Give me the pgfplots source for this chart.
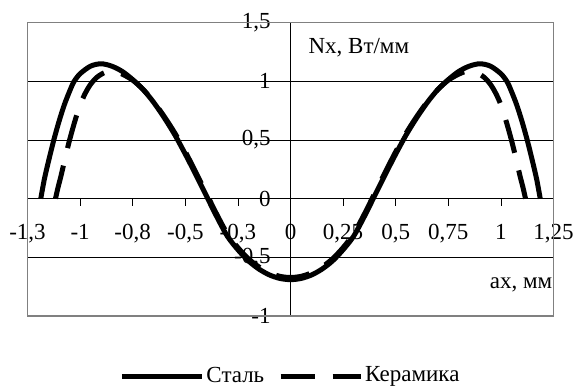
\documentclass[border=0pt]{standalone}
\usepackage{fontspec}
\setmainfont{Liberation Serif}
\usepackage{pgfplots}
\pgfplotsset{compat=1.18}

\begin{document}
\fontsize{23}{27}\selectfont
\begin{tikzpicture}[x=1pt,y=1pt]
\useasboundingbox (0,0) rectangle (577,389);
\begin{axis}[
  at={(27.5pt,73pt)}, anchor=south west,
  scale only axis, width=526pt, height=293.3pt,
  xmin=-1.25, xmax=1.25, ymin=-1, ymax=1.5,
  axis lines=middle,
  axis line style={-, black, line width=0.8pt},
  hide obscured x ticks=false, hide obscured y ticks=false,
  xtick={-1.25,-1,-0.75,-0.5,-0.25,0,0.25,0.5,0.75,1,1.25},
  xticklabels={{-1,3},{-1},{-0,8},{-0,5},{-0,3},{0},{0,25},{0,5},{0,75},{1},{1,25}},
  ytick={-1,-0.5,0,0.5,1,1.5},
  yticklabels={{-1},{-0,5},{0},{0,5},{1},{1,5}},
  tick align=outside,
  major tick length=7pt,
  tick style={black, line width=0.8pt},
  ymajorgrids, grid style={black, line width=0.7pt},
  tick label style={font=\fontsize{23}{27}\selectfont},
  x tick label style={anchor=north, yshift=-11pt},
  y tick label style={anchor=east, xshift=-5pt},
  clip=false,
  legend style={at={(0.5,-0.205)}, anchor=center, draw=none, fill=none,
    legend columns=2, font=\fontsize{23}{27}\selectfont, inner sep=0pt,
    /tikz/every even column/.append style={column sep=12pt}},
  legend image code/.code={\draw[#1] (0pt,0pt) -- (80pt,0pt);},
]
\addplot[black, line width=5pt, smooth, no markers] coordinates {
(-1.187,0.000) (-1.17,0.165) (-1.15,0.320) (-1.125,0.500) (-1.10,0.660) (-1.075,0.800)
(-1.05,0.915) (-1.03,0.995) (-1.00,1.065) (-0.95,1.130) (-0.90,1.150) (-0.85,1.130)
(-0.80,1.085) (-0.75,1.015) (-0.70,0.930) (-0.65,0.820) (-0.60,0.690) (-0.55,0.545)
(-0.50,0.380) (-0.45,0.205) (-0.40,0.025) (-0.35,-0.155) (-0.30,-0.320) (-0.25,-0.435)
(-0.20,-0.530) (-0.15,-0.600) (-0.10,-0.650) (-0.05,-0.680) (0.00,-0.690)
(0.05,-0.680) (0.10,-0.650) (0.15,-0.600) (0.20,-0.530) (0.25,-0.435) (0.30,-0.320)
(0.35,-0.155) (0.40,0.025) (0.45,0.205) (0.50,0.380) (0.55,0.545) (0.60,0.690)
(0.65,0.820) (0.70,0.930) (0.75,1.015) (0.80,1.085) (0.85,1.130) (0.90,1.150)
(0.95,1.130) (1.00,1.065) (1.03,0.995) (1.05,0.915) (1.075,0.800) (1.10,0.660)
(1.125,0.500) (1.15,0.320) (1.17,0.165) (1.187,0.000)
};
\addlegendentry{Сталь}
\addplot[black, line width=5pt, smooth, no markers, dash pattern=on 34pt off 18pt] coordinates {
(-1.117,0.000) (-1.105,0.095) (-1.09,0.200) (-1.07,0.355) (-1.05,0.500) (-1.025,0.660)
(-1.00,0.800) (-0.975,0.900) (-0.95,0.975) (-0.92,1.035) (-0.88,1.078) (-0.84,1.087)
(-0.80,1.062) (-0.75,1.010) (-0.70,0.930) (-0.65,0.825) (-0.60,0.700) (-0.55,0.560)
(-0.50,0.400) (-0.45,0.225) (-0.40,0.045) (-0.35,-0.135) (-0.30,-0.300) (-0.25,-0.417)
(-0.20,-0.512) (-0.15,-0.582) (-0.10,-0.632) (-0.05,-0.662) (0.00,-0.672)
(0.05,-0.662) (0.10,-0.632) (0.15,-0.582) (0.20,-0.512) (0.25,-0.417) (0.30,-0.300)
(0.35,-0.135) (0.40,0.045) (0.45,0.225) (0.50,0.400) (0.55,0.560) (0.60,0.700)
(0.65,0.825) (0.70,0.930) (0.75,1.010) (0.80,1.062) (0.84,1.087) (0.88,1.078)
(0.92,1.035) (0.95,0.975) (0.975,0.900) (1.00,0.800) (1.025,0.660) (1.05,0.500)
(1.07,0.355) (1.09,0.200) (1.105,0.095) (1.117,0.000)
};
\addlegendentry{Керамика}
\draw[gray, line width=1.5pt] (rel axis cs:0,0) rectangle (rel axis cs:1,1);
\node[anchor=base west, inner sep=0pt, font=\fontsize{23}{27}\selectfont] at (axis cs:0.085,1.238) {Nx, Вт/мм};
\node[anchor=base east, inner sep=0pt, font=\fontsize{23}{27}\selectfont] at (axis cs:1.245,-0.765) {ax, мм};
\end{axis}
\end{tikzpicture}
\end{document}
